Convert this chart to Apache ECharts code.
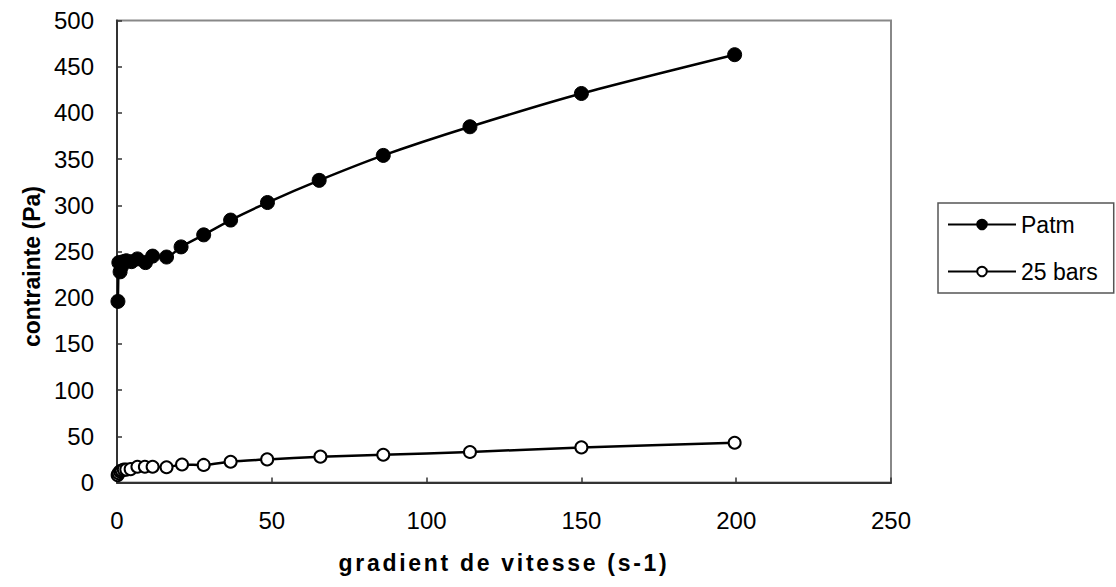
<!DOCTYPE html>
<html>
<head>
<meta charset="utf-8">
<script src="https://cdn.jsdelivr.net/npm/echarts@6/dist/echarts.min.js"></script>
<style>
html,body{margin:0;padding:0;background:#fff;}
#c{width:1116px;height:587px;}
</style>
</head>
<body>
<div id="c"></div>
<script>
const seriesNames = ['Patm', '25 bars'];
const patmX = [0.3, 0.6, 1.0, 1.5, 2.0, 3.0, 4.7, 6.6, 9.2, 11.5, 16, 20.7, 28, 36.7, 48.6, 65.3, 86, 114, 150, 199.5];
const patmY = [196, 238, 228, 234, 239, 240, 239, 242, 238, 245, 244, 255, 268, 284, 303, 327, 354, 385, 421, 463];
const barsX = [0.2, 0.5, 1.0, 1.5, 2.2, 3.0, 4.4, 6.6, 9.0, 11.5, 16, 21, 28, 36.7, 48.5, 65.7, 86, 114, 150, 199.5];
const barsY = [8, 10, 12, 13, 14, 14, 14.5, 17, 17, 17, 16.5, 19.5, 19, 22.5, 25, 28, 30, 33, 38, 43];
const xTicks = { min: 0, max: 250, interval: 50 };
const yTicks = { min: 0, max: 500, interval: 50 };
const xTitle = 'gradient de vitesse (s-1)';
const yTitle = 'contrainte (Pa)';

const pair = (xs, ys) => xs.map((x, i) => [x, ys[i]]);
const FONT = 'Liberation Sans, Arial, sans-serif';

const chart = echarts.init(document.getElementById('c'), null, { renderer: 'svg' });
chart.setOption({
  animation: false,
  backgroundColor: '#ffffff',
  grid: { left: 117, right: 225, top: 20.5, bottom: 104.5, show: true, borderColor: '#888888', borderWidth: 2, backgroundColor: 'transparent' },
  legend: {
    orient: 'vertical',
    left: 938, top: 203,
    padding: [10, 16, 10, 9],
    itemGap: 24,
    itemWidth: 68, itemHeight: 12,
    borderColor: '#555555', borderWidth: 1.5,
    textStyle: { fontFamily: FONT, fontSize: 23, color: '#000' },
    data: seriesNames
  },
  xAxis: {
    type: 'value', min: xTicks.min, max: xTicks.max, interval: xTicks.interval,
    name: xTitle, nameLocation: 'middle', nameGap: 69,
    nameTextStyle: { fontFamily: FONT, fontSize: 23, fontWeight: 'bold', color: '#000' },
    axisLine: { show: true, lineStyle: { color: '#333333', width: 2 } },
    axisTick: { show: true, inside: true, length: 5, lineStyle: { color: '#333333', width: 1.5 } },
    axisLabel: { fontFamily: FONT, fontSize: 24, color: '#000', margin: 26 },
    splitLine: { show: false }
  },
  yAxis: {
    type: 'value', min: yTicks.min, max: yTicks.max, interval: yTicks.interval,
    name: yTitle, nameLocation: 'middle', nameGap: 64,
    nameTextStyle: { fontFamily: FONT, fontSize: 23, fontWeight: 'bold', color: '#000', padding: [0, 30, 0, 0] },
    axisLine: { show: true, lineStyle: { color: '#333333', width: 2 } },
    axisTick: { show: true, inside: true, length: 5, lineStyle: { color: '#333333', width: 1.5 } },
    axisLabel: { fontFamily: FONT, fontSize: 24, color: '#000', margin: 23 },
    splitLine: { show: false }
  },
  series: [
    {
      name: seriesNames[0], type: 'line', data: pair(patmX, patmY),
      smooth: 0.25, symbol: 'circle', symbolSize: 14, showAllSymbol: true,
      lineStyle: { color: '#000', width: 2.5 },
      itemStyle: { color: '#000', borderColor: '#000', borderWidth: 1 },
      z: 3
    },
    {
      name: seriesNames[1], type: 'line', data: pair(barsX, barsY),
      smooth: 0.25, symbol: 'circle', symbolSize: 12, showAllSymbol: true,
      lineStyle: { color: '#000', width: 2.5 },
      itemStyle: { color: '#ffffff', borderColor: '#000', borderWidth: 2 },
      z: 3
    }
  ]
});

function spaceTitle() {
  document.querySelectorAll('#c svg text').forEach(function (t) {
    if (t.textContent === xTitle) {
      t.setAttribute('letter-spacing', '2.7px');
      t.style.letterSpacing = '2.7px';
    }
  });
}
chart.on('finished', spaceTitle);
spaceTitle();
</script>
</body>
</html>
